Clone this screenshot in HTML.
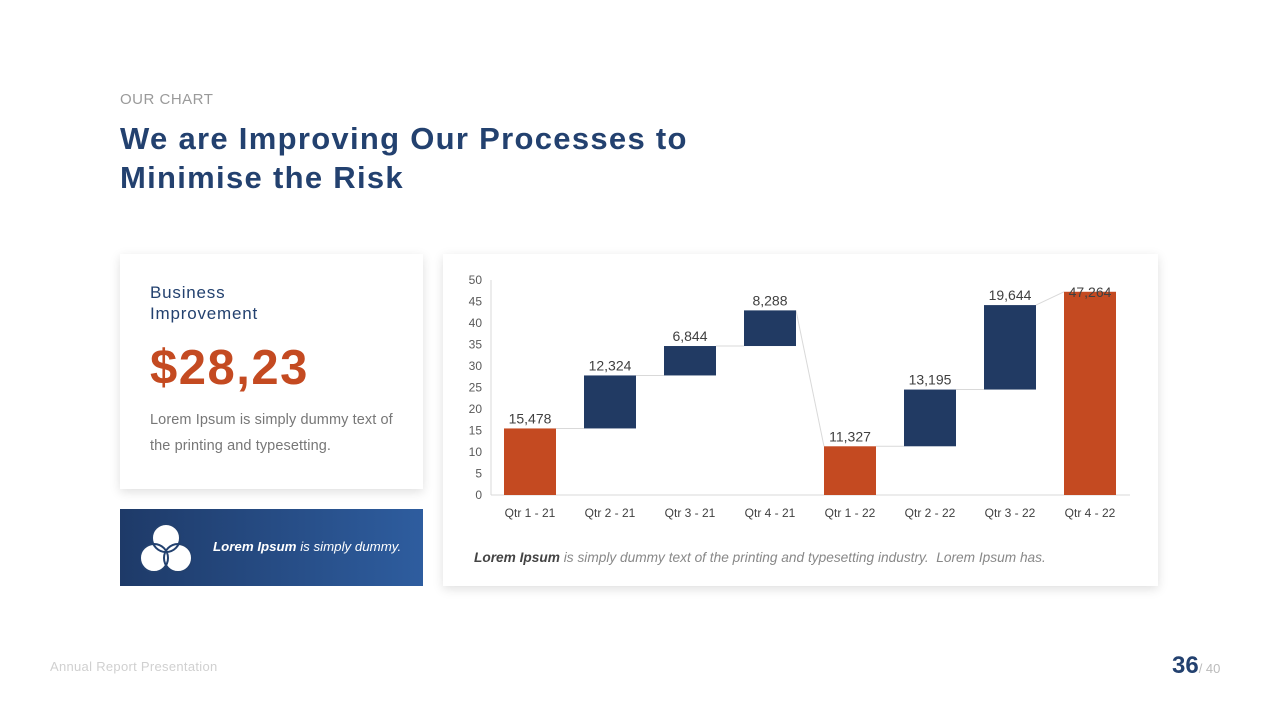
<!DOCTYPE html>
<html><head><meta charset="utf-8"><style>
body{margin:0;width:1280px;height:720px;background:#fff;font-family:"Liberation Sans",sans-serif;position:relative;overflow:hidden}
.abs{position:absolute}
.card{background:#fff;box-shadow:0 3px 10px rgba(0,0,0,0.13)}
</style></head><body>
<div class="abs" style="left:120px;top:91px;font-size:15px;color:#9a9a9a;letter-spacing:0.5px">OUR CHART</div>
<div class="abs" style="left:120px;top:119px;font-size:31px;font-weight:bold;color:#23416f;line-height:39px;letter-spacing:1.3px">We are Improving Our Processes to<br>Minimise the Risk</div>

<div class="abs card" style="left:120px;top:254px;width:303px;height:235px">
  <div class="abs" style="left:30px;top:28px;font-size:17px;color:#23416f;line-height:21px;letter-spacing:0.8px">Business<br>Improvement</div>
  <div class="abs" style="left:30px;top:86px;font-size:49px;font-weight:bold;color:#c44a21;letter-spacing:1.5px">$28,23</div>
  <div class="abs" style="left:30px;top:153px;font-size:14.5px;color:#777;line-height:26px;letter-spacing:0.1px">Lorem Ipsum is simply dummy text of<br>the printing and typesetting.</div>
</div>

<div class="abs" style="left:120px;top:509px;width:303px;height:77px;background:linear-gradient(90deg,#1e3a68,#2e5d9f)">
  <svg class="abs" style="left:20px;top:13px" width="52" height="52" viewBox="0 0 52 52">
    <circle cx="26" cy="16" r="14" fill="#fff"/><circle cx="14" cy="36" r="14" fill="#fff"/><circle cx="38" cy="36" r="14" fill="#fff"/>
    <circle cx="26" cy="16" r="14" fill="none" stroke="#23416f" stroke-width="2"/><circle cx="14" cy="36" r="14" fill="none" stroke="#23416f" stroke-width="2"/><circle cx="38" cy="36" r="14" fill="none" stroke="#23416f" stroke-width="2"/>
  </svg>
  <div class="abs" style="left:93px;top:30px;font-size:13.3px;color:#fff;font-style:italic"><b>Lorem Ipsum</b> is simply dummy.</div>
</div>

<div class="abs card" style="left:443px;top:254px;width:715px;height:332px"></div>
<svg class="abs" id="chart" style="left:0;top:0" width="1280" height="720"></svg>
<div class="abs" style="left:474px;top:550px;font-size:13.7px;color:#888;font-style:italic"><b style="color:#444">Lorem Ipsum</b> is simply dummy text of the printing and typesetting industry.&nbsp; Lorem Ipsum has.</div>

<div class="abs" style="left:50px;top:659px;font-size:13px;color:#d0d0d0;letter-spacing:0.3px">Annual Report Presentation</div>
<div class="abs" style="left:1172px;top:652px;font-size:24px;font-weight:bold;color:#23416f">36<span style="font-size:13px;color:#bbb;font-weight:normal">/ 40</span></div>

<script>
const categories=["Qtr 1 - 21","Qtr 2 - 21","Qtr 3 - 21","Qtr 4 - 21","Qtr 1 - 22","Qtr 2 - 22","Qtr 3 - 22","Qtr 4 - 22"];
const values=[15.478,12.324,6.844,8.288,11.327,13.195,19.644,47.264];
const isTotal=[1,0,0,0,1,0,0,1];
const labels=["15,478","12,324","6,844","8,288","11,327","13,195","19,644","47,264"];
const yTicks=[0,5,10,15,20,25,30,35,40,45,50];
const NS="http://www.w3.org/2000/svg",svg=document.getElementById("chart");
const x0=491,step=80,bw=52,yBase=495,yTop=280,yMax=50;
const y=v=>yBase-(v/yMax)*(yBase-yTop);
const xl=i=>x0+13+i*step;
function mk(t,a){const e=document.createElementNS(NS,t);for(const k in a)e.setAttribute(k,a[k]);svg.appendChild(e);return e;}
let ax=mk("line",{x1:x0,y1:yTop,x2:x0,y2:yBase,stroke:"#d9d9d9"});


let bx=mk("line",{x1:x0,y1:yBase,x2:x0+step*8-1,y2:yBase,stroke:"#d9d9d9"});


yTicks.forEach(t=>{const e=mk("text",{x:x0-9,y:y(t)+4,"text-anchor":"end","font-size":"12","fill":"#595959"});e.textContent=t;

});
let cum=0;const tops=[];
values.forEach((v,i)=>{let lo,hi;if(isTotal[i]){lo=0;hi=v;cum=v;}else{lo=cum;hi=cum+v;cum=hi;}tops.push({lo,hi});});
tops.forEach((b,i)=>{
  if(i<tops.length-1){const n=tops[i+1];const ny=isTotal[i+1]?n.hi:b.hi;
    const c=mk("line",{x1:xl(i)+bw,y1:y(b.hi),x2:xl(i+1),y2:y(ny),stroke:"#d9d9d9","stroke-width":1});
    
    }
});
tops.forEach((b,i)=>{
  const r=mk("rect",{x:xl(i),y:y(b.hi),width:bw,height:y(b.lo)-y(b.hi),fill:isTotal[i]?"#c44a21":"#213a63"});
  
  
  const ly=Math.max(y(b.hi)-5,yTop+17);
  const t=mk("text",{x:xl(i)+bw/2,y:ly,"text-anchor":"middle","font-size":"14","fill":"#404040"});t.textContent=labels[i];
  
  
  const c=mk("text",{x:xl(i)+bw/2,y:yBase+22,"text-anchor":"middle","font-size":"12","fill":"#404040"});c.textContent=categories[i];
  
  
});
</script>
</body></html>
